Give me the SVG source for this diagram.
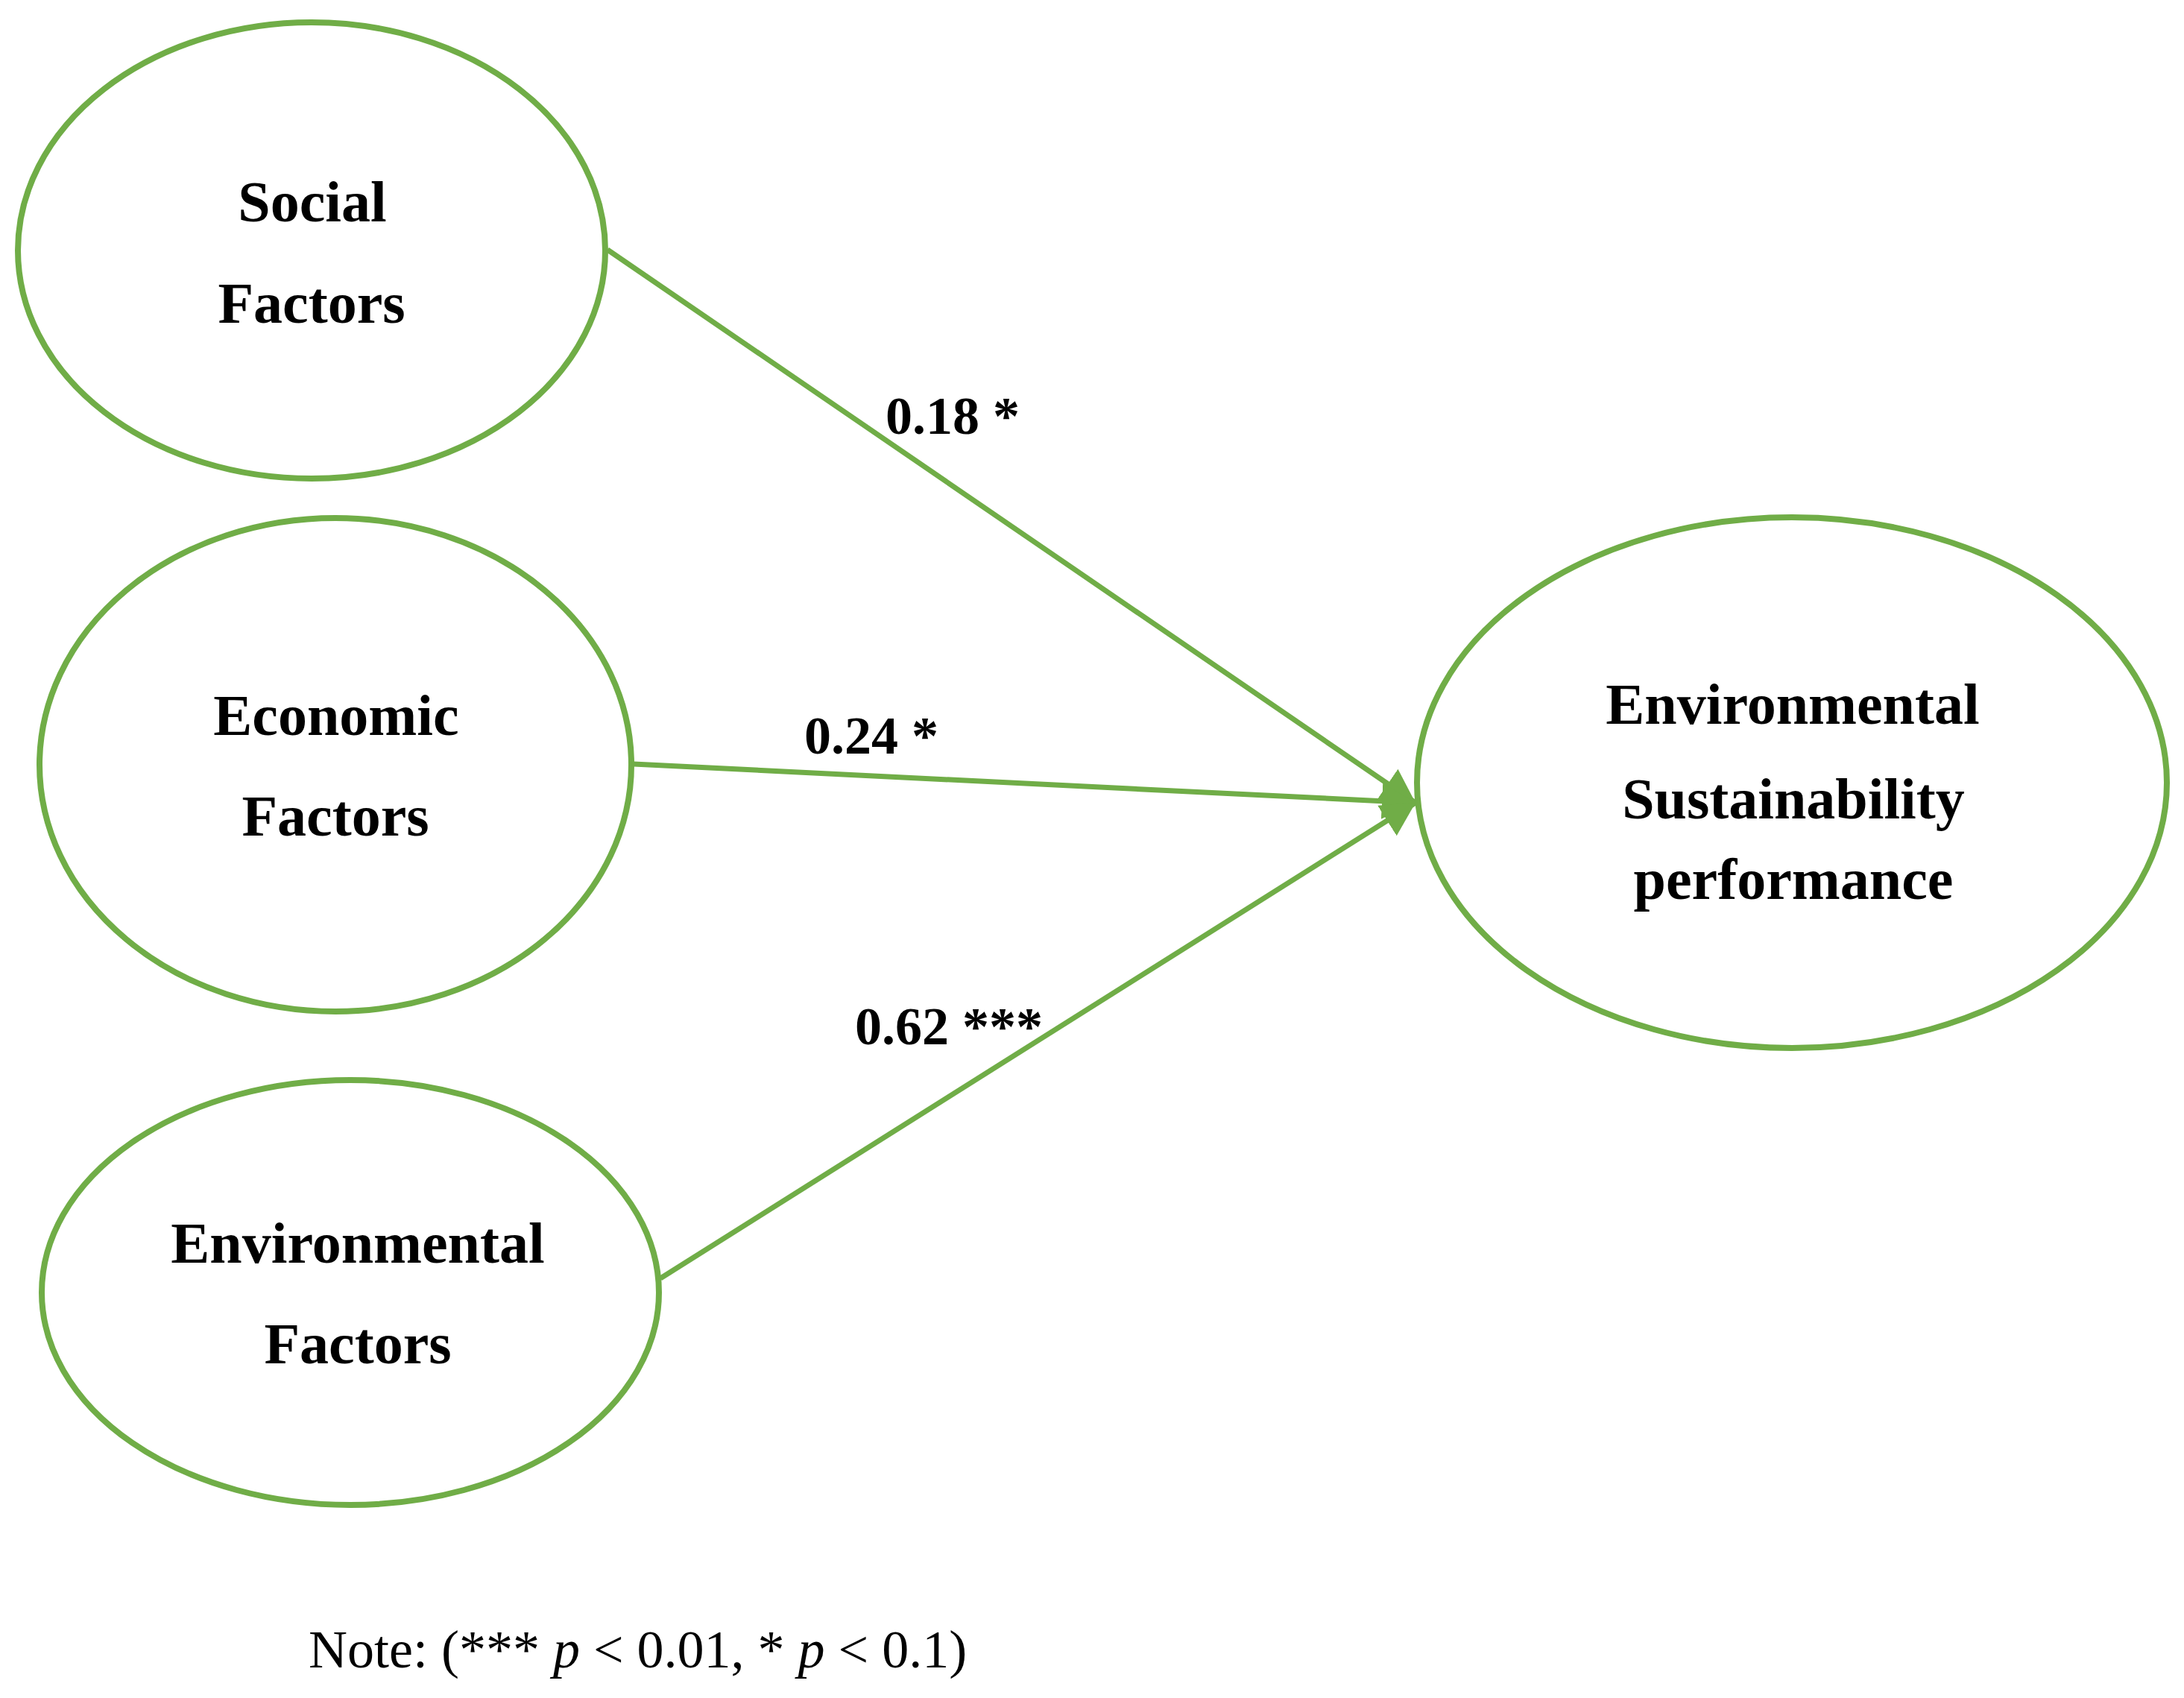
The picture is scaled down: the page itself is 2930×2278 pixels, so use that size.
<svg xmlns="http://www.w3.org/2000/svg" width="2930" height="2278" viewBox="0 0 2930 2278">
<style>
.node{fill:#FFFFFF;stroke:#70AD47;stroke-width:8}
.lbl{font-family:"Liberation Serif","Times New Roman",serif;font-weight:bold;font-size:78px;fill:#000;text-anchor:middle}
.coef{font-family:"Liberation Serif","Times New Roman",serif;font-weight:bold;font-size:72px;fill:#000}
.edge{stroke:#70AD47;stroke-width:7;fill:none}
.note{font-family:"Liberation Serif","Times New Roman",serif;font-size:72px;fill:#000}
</style>
<defs>
<marker id="arr" markerUnits="userSpaceOnUse" markerWidth="48" markerHeight="50" refX="45" refY="25" orient="auto">
<path d="M0,1 L45,25 L0,49 z" fill="#70AD47"/>
</marker>
</defs>
<rect width="2930" height="2278" fill="#FFFFFF"/>
<g id="connectors">
<line class="edge" x1="815" y1="335" x2="1899" y2="1077" marker-end="url(#arr)"/>
<line class="edge" x1="850" y1="1025" x2="1899" y2="1077" marker-end="url(#arr)"/>
<line class="edge" x1="886" y1="1715" x2="1899" y2="1077" marker-end="url(#arr)"/>
</g>
<g id="social">
<ellipse class="node" cx="418" cy="336" rx="394" ry="306"/>
<text class="lbl" x="419" y="297">Social</text>
<text class="lbl" x="418" y="433">Factors</text>
</g>
<g id="economic">
<ellipse class="node" cx="450" cy="1026" rx="397" ry="331"/>
<text class="lbl" x="451" y="986">Economic</text>
<text class="lbl" x="450" y="1121">Factors</text>
</g>
<g id="environmental">
<ellipse class="node" cx="470" cy="1734" rx="414" ry="285"/>
<text class="lbl" x="480" y="1694">Environmental</text>
<text class="lbl" x="480" y="1829">Factors</text>
</g>
<g id="esp">
<ellipse class="node" cx="2404" cy="1050" rx="503" ry="356"/>
<text class="lbl" x="2405" y="971">Environmental</text>
<text class="lbl" x="2406" y="1098">Sustainability</text>
<text class="lbl" x="2406" y="1206">performance</text>
</g>
<g id="labels">
<text class="coef" x="1188" y="582">0.18 *</text>
<text class="coef" x="1079" y="1011">0.24 *</text>
<text class="coef" x="1147" y="1401">0.62 ***</text>
</g>
<text class="note" x="414" y="2237">Note: (*** <tspan font-style="italic">p</tspan> &lt; 0.01, * <tspan font-style="italic">p</tspan> &lt; 0.1)</text>
</svg>
